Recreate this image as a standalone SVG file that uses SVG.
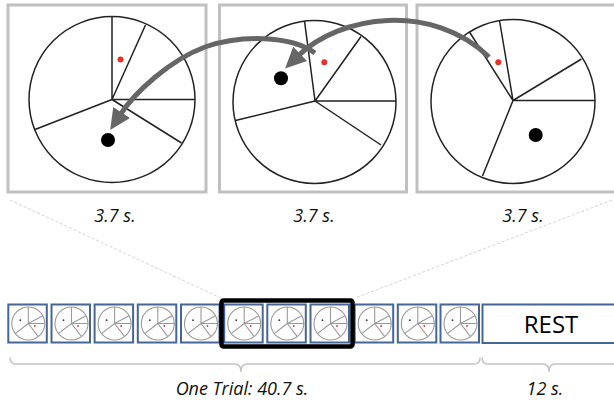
<svg xmlns="http://www.w3.org/2000/svg" xmlns:xlink="http://www.w3.org/1999/xlink" width="614" height="403" viewBox="0 0 614 403">
<style>
.panel{fill:#fff;stroke:#c0c0c0;stroke-width:3}
.pie{fill:none;stroke:#222;stroke-width:1.5}
.red{fill:#e8302a}
.blk{fill:#000}
.lbl{font-family:"Open Sans","Liberation Sans",sans-serif;font-style:italic;font-size:18px;fill:#111;text-anchor:middle}
.tbox{fill:#fff;stroke:#46669a;stroke-width:2}
.tpie{fill:none;stroke:#9a9a9a;stroke-width:1.1}
.arrow{fill:none;stroke:#666;stroke-width:5;marker-end:url(#ah)}
.dash{fill:none;stroke:#d4d4d4;stroke-width:1;stroke-dasharray:3 2}
.brk{fill:none;stroke:#c4c4c4;stroke-width:1.5}
</style>
<defs>
<marker id="ah" markerUnits="userSpaceOnUse" markerWidth="22" markerHeight="20" viewBox="0 0 22 20" refX="3" refY="10" orient="auto">
<path d="M0,0 L21,10 L0,20 z" fill="#666"/>
</marker>
<g id="thumb">
<rect class="tbox" x="1" y="1" width="38.5" height="38"/>
<g class="tpie">
<circle cx="21" cy="20" r="16.5"/>
<path d="M21 20 L21 3.5 M21 20 L35.6 12.3 M21 20 L37.5 20 M21 20 L31 33.2 M21 20 L7.9 30.1"/>
</g>
<circle cx="27.5" cy="22.5" r="0.9" class="red"/>
<circle cx="13" cy="16.7" r="0.9" fill="#333"/>
</g>
</defs>
<rect width="614" height="403" fill="#fff"/>

<g id="connectors">
<line class="dash" x1="10" y1="200" x2="221" y2="298"/>
<line class="dash" x1="612" y1="200" x2="355" y2="298"/>
<path class="brk" d="M10 357.5 Q10 364 16 364 L235 364 Q241 364 241 372 Q241 364 247 364 L474 364 Q480 364 480 357.5"/>
<path class="brk" d="M482 357.5 Q482 364 488 364 L543 364 Q549 364 549 372 Q549 364 555 364 L616 364"/>
</g>

<g id="panel1">
<rect class="panel" x="8" y="5" width="198" height="187"/>
<circle class="pie" cx="112" cy="99.5" r="83"/>
<path class="pie" d="M112 99.5 L112 16.5 M112 99.5 L145.5 25 M112 99.5 L195 99.5 M112 99.5 L181.5 143 M112 99.5 L35 129.5"/>
<circle class="red" cx="120.5" cy="59.5" r="3"/>
<circle class="blk" cx="108" cy="140" r="7"/>
</g>

<g id="panel2">
<rect class="panel" x="219.5" y="5" width="187" height="187"/>
<circle class="pie" cx="314.5" cy="102" r="81.5"/>
<path class="pie" d="M315 101 L304.5 20.8 M315 101 L361 36.5 M315 101 L396 101 M315 101 L381 145 M315 101 L235.5 120.5"/>
<circle class="red" cx="324.3" cy="62.3" r="3"/>
<circle class="blk" cx="281" cy="78.3" r="7"/>
</g>

<g id="panel3">
<rect class="panel" x="417" y="5" width="200" height="187"/>
<circle class="pie" cx="513" cy="101.5" r="82"/>
<path class="pie" d="M513 100.5 L469.5 32 M513 100.5 L499.5 20.5 M513 100.5 L581.5 59 M513 100.5 L595 100.5 M513 100.5 L482.5 176"/>
<circle class="red" cx="498.3" cy="62.3" r="3"/>
<circle class="blk" cx="535.7" cy="135" r="7"/>
</g>

<g id="arrows">
<path class="arrow" d="M489 57 C432 2, 340 15, 298 56"/>
<path class="arrow" d="M315 53 C290 35, 240 35, 205 47 C170 60, 135 92, 120 115"/>
</g>

<g id="labels-top">
<text class="lbl" x="115" y="222">3.7 s.</text>
<text class="lbl" x="314" y="222">3.7 s.</text>
<text class="lbl" x="523" y="222">3.7 s.</text>
</g>

<g id="thumbs">
<use xlink:href="#thumb" x="7.3" y="303.5"/>
<use xlink:href="#thumb" x="50.5" y="303.5"/>
<use xlink:href="#thumb" x="93.6" y="303.5"/>
<use xlink:href="#thumb" x="136.8" y="303.5"/>
<use xlink:href="#thumb" x="180" y="303.5"/>
<use xlink:href="#thumb" x="223.2" y="303.5"/>
<use xlink:href="#thumb" x="266.3" y="303.5"/>
<use xlink:href="#thumb" x="309.5" y="303.5"/>
<use xlink:href="#thumb" x="353.7" y="303.5"/>
<use xlink:href="#thumb" x="396.8" y="303.5"/>
<use xlink:href="#thumb" x="439.5" y="303.5"/>
</g>

<g id="trial-window">
<rect x="221.5" y="300.5" width="131" height="46" rx="2" fill="none" stroke="#000" stroke-width="4.5"/>
</g>

<g id="rest">
<rect class="tbox" x="482.5" y="304.5" width="140" height="38.5"/>
<text x="551" y="333" font-family="'Open Sans','Liberation Sans',sans-serif" font-size="24" fill="#000" text-anchor="middle">REST</text>
</g>

<g id="labels-bottom">
<text class="lbl" x="242" y="395">One Trial: 40.7 s.</text>
<text class="lbl" x="545" y="395">12 s.</text>
</g>
</svg>
